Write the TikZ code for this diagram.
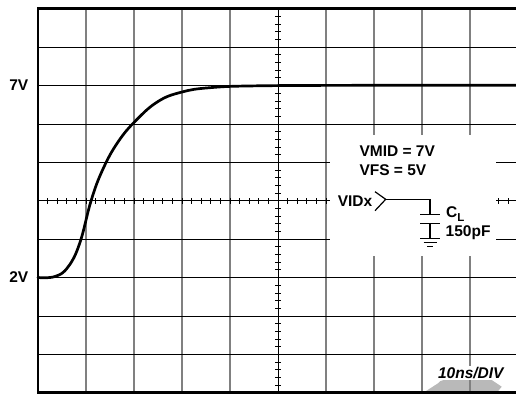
\documentclass[tikz,border=0pt]{standalone}
\usepackage{fontspec}
\setmainfont{Liberation Sans}
\begin{document}
\begin{tikzpicture}[x=1pt, y=1pt,
  lbl/.style={font=\fontsize{15.5}{18}\selectfont\bfseries, inner sep=0pt},
  vgrid/.style={draw=gray, line width=1.4pt},
  hgrid/.style={draw=black, line width=0.9pt},
  wire/.style={line width=1.2pt}]
  \useasboundingbox (0,0) rectangle (516,394);
  \clip (0,0) rectangle (516,394);
  \fill[gray!55] (423.3,1.2) -- (438,10.7) .. controls (440,13) .. (444,14) -- (491.7,14) -- (501.7,7.3) -- (496.7,1.2) -- cycle;
  \foreach \i in {1,...,4,6,7,8,9,10} \draw[vgrid] ({38+48*\i},1.2) -- ({38+48*\i},385.2);
  \foreach \j in {1,...,9} \draw[hgrid] (38,{1.2+38.4*\j}) -- (518,{1.2+38.4*\j});
  \draw[hgrid] (278,1.2) -- (278,385.2);
  \foreach \k in {1,...,49} \draw[hgrid] ({38+9.6*\k},190.2) -- ({38+9.6*\k},196.2);
  \foreach \k in {1,...,49} \draw[hgrid] (275,{1.2+7.68*\k}) -- (281,{1.2+7.68*\k});
  \fill[white] (330,138) rectangle (496,259);
  \fill[white] (437,14.3) rectangle (505,28);
  \draw[line width=2.7pt] (518,385.2) -- (38,385.2) -- (38,1.2) -- (518,1.2);
  \draw[line width=2.7pt, line cap=round] plot[smooth, tension=0.7] coordinates {
    (38,116.5) (55,117.5) (68,127) (79.7,150.7) (91.3,194) (103,225) (118,252)
    (136,273.6) (158,292.5) (181.3,301.8) (210,306.3) (260,308.2) (380,308.7) (518,308.8)};
  \node[lbl, anchor=base east] (seven) at (28.5,303.5) {7V};
  \node[lbl, anchor=base east] (two) at (28.5,111.3) {2V};
  \node[lbl, anchor=base west] (vmid) at (359.3,237.3) {VMID = 7V};
  \node[lbl, anchor=base west] (vfs) at (359.3,218.3) {VFS = 5V};
  \node[lbl, anchor=base east] (vidx) at (372.5,188) {VIDx};
  \node[lbl, anchor=base west] (cl) at (446,176.7) {C\raisebox{-4.4pt}{\fontsize{11.5}{12}\selectfont L}};
  \node[lbl, anchor=base west] (cval) at (445.5,158) {150pF};
  \node[lbl, font=\fontsize{15.5}{18}\selectfont\bfseries\itshape, anchor=base] (div) at (470.8,15.7) {10ns/DIV};
  \coordinate (tip) at (385.7,194.7);
  \coordinate (top) at (430,179.7);
  \coordinate (bot) at (430,170.7);
  \coordinate (gnd) at (430,155.7);
  \draw[wire] (375,202.3) -- (tip) -- (375,183.3);
  \draw[wire] (tip) -| (top);
  \draw[line width=1.5pt] (420,179.7) -- (440,179.7);
  \draw[line width=1.5pt] (420,170.7) -- (440,170.7);
  \draw[wire] (bot) -- (gnd);
  \draw[wire] (420,155.7) -- (440,155.7);
  \draw[wire] (423.5,151.4) -- (436.5,151.4);
  \draw[wire] (427,147.3) -- (433,147.3);
\end{tikzpicture}
\end{document}
